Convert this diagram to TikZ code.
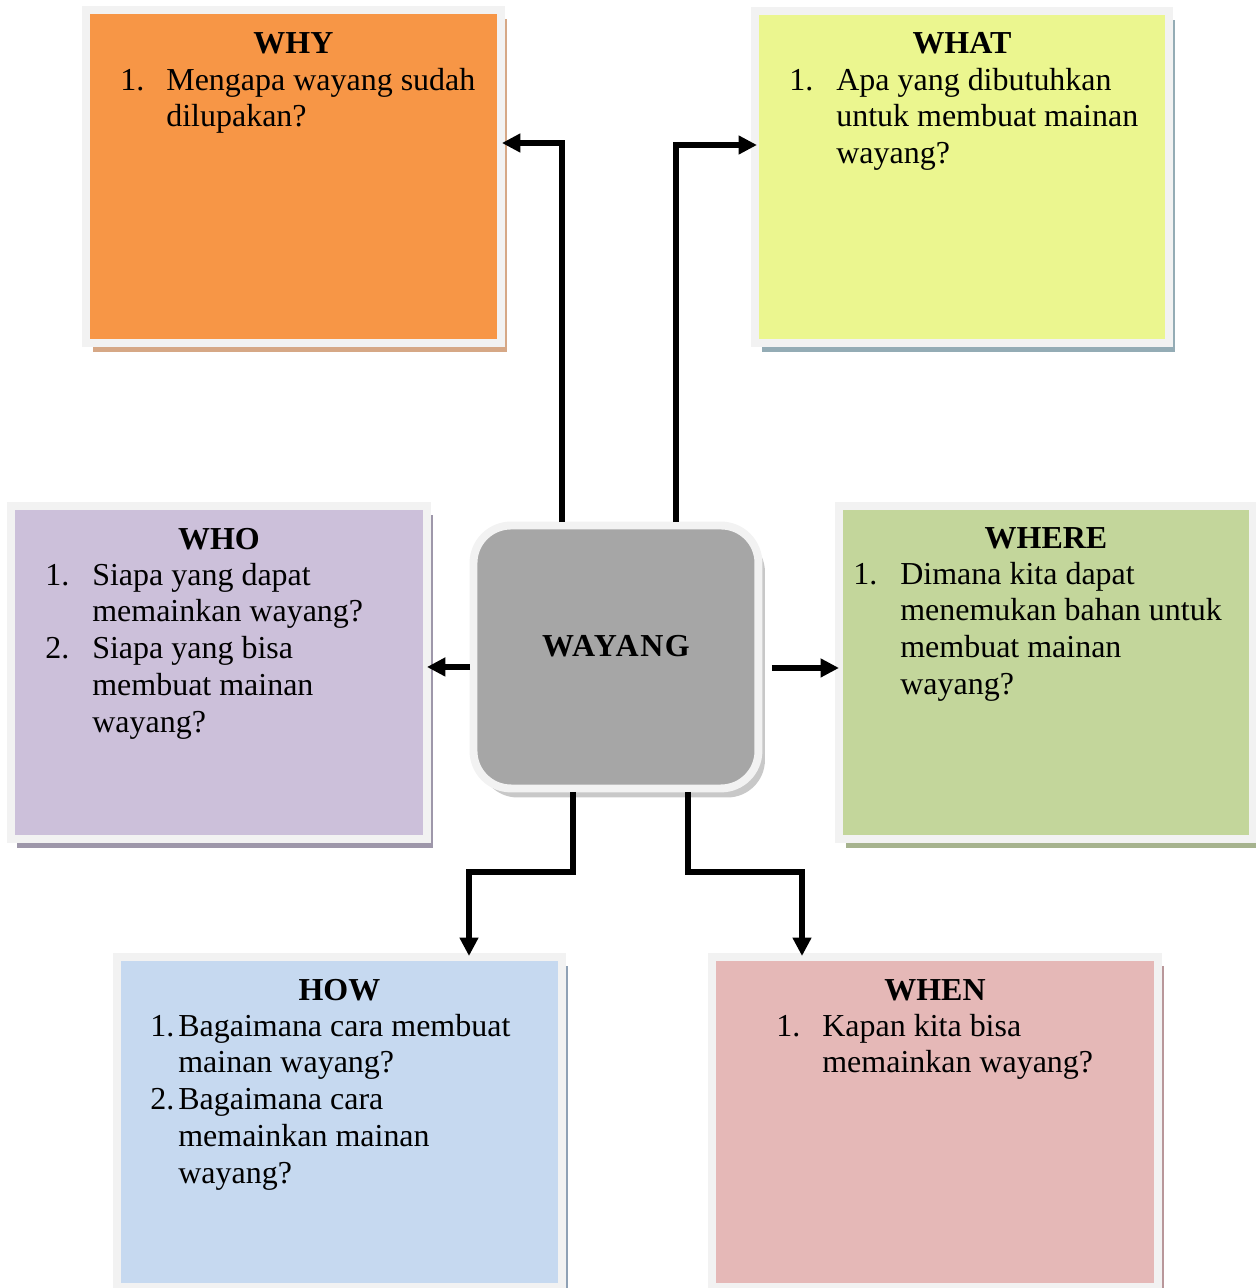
\documentclass[tikz,border=0pt]{standalone}
\usepackage{fontspec}
\setmainfont{Liberation Serif}
\usepackage{tikz}
\usetikzlibrary{positioning, calc, arrows.meta, shadows}

\definecolor{rim}{HTML}{F2F2F2}
\definecolor{whyfill}{HTML}{F79646}
\definecolor{whyshade}{HTML}{D6A886}
\definecolor{whatfill}{HTML}{EBF68F}
\definecolor{whatshade}{HTML}{94ACB5}
\definecolor{whofill}{HTML}{CCC0DA}
\definecolor{whoshade}{HTML}{9E97AA}
\definecolor{wherefill}{HTML}{C3D69B}
\definecolor{whereshade}{HTML}{A6B38E}
\definecolor{howfill}{HTML}{C6D9F0}
\definecolor{howshade}{HTML}{8FA1B5}
\definecolor{whenfill}{HTML}{E5B8B7}
\definecolor{whenshade}{HTML}{B9979A}
\definecolor{hubfill}{HTML}{A6A6A6}
\definecolor{hubshade}{HTML}{C8C8C8}

\tikzset{qbox/.style args={#1/#2}{rectangle, draw=rim, line width=4.5pt, fill=#1, anchor=north west, inner sep=0pt, outer sep=0pt, drop shadow={shadow xshift=0.13cm, shadow yshift=-0.18cm, fill=#2, opacity=1}}}
\tikzset{link/.style={line width=3pt, -{Triangle[length=0.37cm, width=0.36cm]}}}
\tikzset{qtext/.style={font=\fontsize{18.2}{21}\selectfont, inner sep=0pt}}
\tikzset{qhead/.style={font=\fontsize{18.2}{21}\selectfont\bfseries, inner sep=0pt}}

\newcommand{\qlist}[2]{\begin{tabular}[t]{@{}p{#1}@{}l@{}}#2\end{tabular}}

\begin{document}
\begin{tikzpicture}[x=0.02cm, y=-0.02cm]
      \useasboundingbox (0,0) rectangle (1256,1288);

      % BOXES

      \node[qbox=hubfill/hubshade, rounded corners=0.75cm, minimum width=5.7cm, minimum height=5.26cm,
            font=\fontsize{18.2}{21}\selectfont\bfseries\addfontfeature{LetterSpace=5},
            text height=0.44cm, text depth=0.44cm] (wayang) at (473.5,525.5) {WAYANG};
      \node[qbox=whyfill/whyshade, minimum width=8.3cm, minimum height=6.66cm] (why) at (86,10) {};
      \node[qbox=whatfill/whatshade, minimum width=8.28cm, minimum height=6.64cm] (what) at (755,11) {};
      \node[qbox=whofill/whoshade, minimum width=8.32cm, minimum height=6.66cm] (who) at (11,506) {};
      \node[qbox=wherefill/whereshade, minimum width=8.28cm, minimum height=6.66cm] (where) at (839,506) {};
      \node[qbox=howfill/howshade, minimum width=8.9cm, minimum height=6.6cm] (how) at (117,957) {};
      \node[qbox=whenfill/whenshade, minimum width=8.92cm, minimum height=6.6cm] (when) at (712,957) {};

      % HEADINGS

      \node[qhead, anchor=base] (whyh) at ($(why.north)+(0,43)$) {WHY};
      \node[qhead, anchor=base] (whath) at ($(what.north)+(0,42)$) {WHAT};
      \node[qhead, anchor=base] (whoh) at ($(who.north)+(0,43)$) {WHO};
      \node[qhead, anchor=base] (whereh) at ($(where.north)+(0,42)$) {WHERE};
      \node[qhead, anchor=base] (howh) at ($(how.north)+(0,43)$) {HOW};
      \node[qhead, anchor=base] (whenh) at ($(when.north)+(0,43)$) {WHEN};

      % QUESTIONS

      \node[qtext, anchor=base west] (whyq) at ($(why.north west)+(34,80)$) {
        \qlist{0.92cm}{1. & Mengapa wayang sudah\\
                          & dilupakan?}
      };
      \node[qtext, anchor=base west] (whatq) at ($(what.north west)+(34,79)$) {
        \qlist{0.94cm}{1. & Apa yang dibutuhkan\\
                          & untuk membuat mainan\\
                          & wayang?}
      };
      \node[qtext, anchor=base west] (whoq) at ($(who.north west)+(34,79)$) {
        \qlist{0.94cm}{1. & Siapa yang dapat\\
                          & memainkan wayang?\\
                       2. & Siapa yang bisa\\
                          & membuat mainan\\
                          & wayang?}
      };
      \node[qtext, anchor=base west] (whereq) at ($(where.north west)+(14,78)$) {
        \qlist{0.94cm}{1. & Dimana kita dapat\\
                          & menemukan bahan untuk\\
                          & membuat mainan\\
                          & wayang?}
      };
      \node[qtext, anchor=base west] (howq) at ($(how.north west)+(33,79)$) {
        \qlist{0.56cm}{1. & Bagaimana cara membuat\\
                          & mainan wayang?\\
                       2. & Bagaimana cara\\
                          & memainkan mainan\\
                          & wayang?}
      };
      \node[qtext, anchor=base west] (whenq) at ($(when.north west)+(64,79)$) {
        \qlist{0.92cm}{1. & Kapan kita bisa\\
                          & memainkan wayang?}
      };

      % ARCS

      \draw[link, shorten <=0.07cm] ($(wayang.north)+(-54,0)$) |- ($(why.north east)+(1,133)$);
      \draw[link, shorten <=0.07cm] ($(wayang.north)+(60,0)$) |- ($(what.north west)+(2,134)$);
      \coordinate (wl) at ($(wayang.west)+(0,10)$);
      \draw[link, shorten <=0.07cm] (wl) -- (wl -| who.east);
      \coordinate (wr) at ($(wayang.east)+(13.5,11)$);
      \draw[link] (wr) -- (wr -| where.west);
      \draw[link, shorten <=0.07cm] ($(wayang.south)+(-43,0)$) -- ++(0,83.5) -| ($(how.north west)+(352,-1)$);
      \draw[link, shorten <=0.07cm] ($(wayang.south)+(72,0)$) -- ++(0,83.5) -| ($(when.north west)+(90,-1)$);
\end{tikzpicture}
\end{document}
